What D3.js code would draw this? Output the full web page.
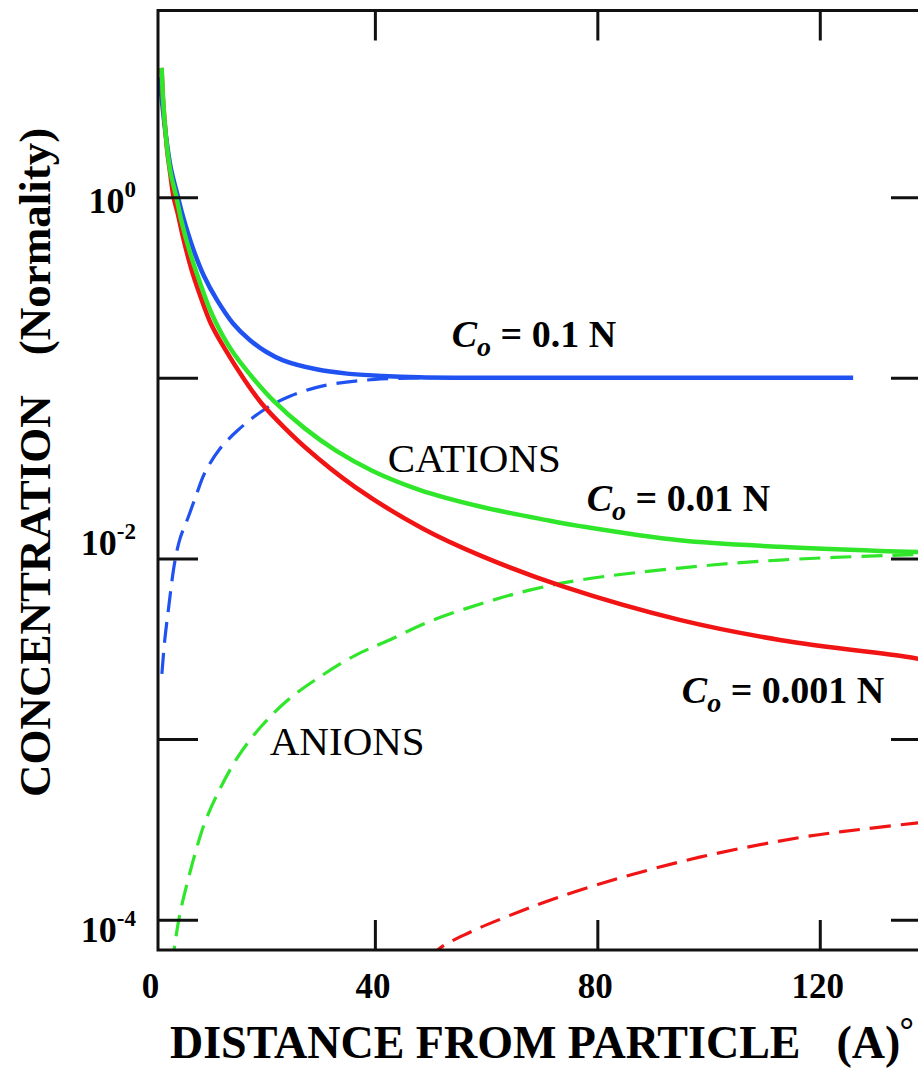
<!DOCTYPE html>
<html>
<head>
<meta charset="utf-8">
<script src="https://cdn.jsdelivr.net/npm/d3@7"></script>
<style>
  body { margin: 0; background: #fff; }
  svg { display: block; font-family: "Liberation Serif", "Times New Roman", serif; }
</style>
</head>
<body>
<div id="chart"></div>
<script>
const width = 918,
      height = 1068;

// [distance (A), concentration (N)]
// Co = 0.1 N
const cation01 = [[1.3, 4.6], [1.8, 3.2], [2.5, 2.1], [3.3, 1.45], [4.6, 1.0], [5.5, 0.78], [7.3, 0.52], [9.2, 0.37],
    [11.6, 0.27], [14.5, 0.2], [17.5, 0.162], [20.5, 0.139], [23.5, 0.125], [29.5, 0.1115], [35, 0.1055],
    [41.4, 0.1025], [48, 0.1008], [55, 0.1002], [65, 0.1], [126, 0.1]];
const anion01 = [[1.7, 0.0023], [2.2, 0.0035], [2.8, 0.005], [4.0, 0.0095], [5.0, 0.013], [6.4, 0.0168], [8.0, 0.023],
    [9.4, 0.0297], [12.0, 0.040], [15.4, 0.0514], [20.2, 0.067], [24.7, 0.079], [29.2, 0.088], [33, 0.093],
    [40, 0.098], [50, 0.1]];
// Co = 0.01 N
const cation001 = [[1.65, 5.2], [1.9, 3.5], [2.3, 2.4], [2.7, 1.8], [3.3, 1.35], [4.3, 1.0], [5.2, 0.74], [6.7, 0.5],
    [8.5, 0.34], [10.3, 0.24], [12.5, 0.174], [14.5, 0.138], [18.4, 0.097], [21.7, 0.075], [27.4, 0.0525],
    [33, 0.0395], [39.5, 0.0306], [48, 0.024], [58.9, 0.0194], [70.9, 0.0163], [76.9, 0.0151], [94.8, 0.0126],
    [112.8, 0.0116], [130.8, 0.0110], [140, 0.0108]];
const anion001 = [[3.6, 5.5e-5], [4.0, 7.2e-5], [5.0, 1.1e-4], [6.4, 1.66e-4], [7.8, 2.4e-4], [9.4, 3.44e-4],
    [12, 5.2e-4], [15.4, 8.0e-4], [19.5, 1.17e-3], [24.4, 1.65e-3], [30, 2.2e-3], [36.4, 2.9e-3], [42.3, 3.5e-3],
    [50, 4.5e-3], [59.8, 5.7e-3], [68, 6.7e-3], [76.9, 7.6e-3], [94.8, 8.85e-3], [112.8, 9.8e-3],
    [136.7, 1.05e-2], [140, 1.055e-2]];
// Co = 0.001 N
const cation0001 = [[1.65, 5.2], [1.9, 3.5], [2.3, 2.4], [2.7, 1.75], [3.2, 1.35], [3.8, 1.0], [4.6, 0.8], [5.5, 0.6],
    [7.0, 0.40], [8.5, 0.29], [10.5, 0.2], [13.0, 0.145], [16.6, 0.097], [19.5, 0.073], [22, 0.06], [27.4, 0.0414],
    [36.4, 0.0249], [48.5, 0.0147], [58.9, 0.0104], [73.8, 0.0070], [94.8, 0.00457], [112.8, 0.00354],
    [136.7, 0.00282], [140, 0.0027]];
const anion0001 = [[50, 5.9e-5], [51.3, 6.8e-5], [57, 8.5e-5], [63.7, 1.04e-4], [72, 1.3e-4], [82.8, 1.66e-4],
    [98.4, 2.22e-4], [116.4, 2.85e-4], [128, 3.18e-4], [140, 3.5e-4]];

// ticks
const xTicks = [40, 80, 120];
const xTickLabels = [0, 40, 80, 120];
const yTicks = [1e-4, 1e-3, 1e-2, 1e-1, 1];
const yTickLabels = [-4, -2, 0];

const blue = "#1f52f0",
      green = "#30e62a",
      red = "#f01414";

// plot extent (data units)
const xMin = 1, xMax = 140,
      yMin = 6.8e-5, yMax = 10.8;

const x = d3.scaleLinear().domain([xMin, xMax]).range([158, 931]);
const y = d3.scaleLog().domain([yMin, yMax]).range([950, 10.5]);

const svg = d3.select("#chart").append("svg")
    .attr("width", width)
    .attr("height", height);

svg.append("clipPath").attr("id", "plot")
  .append("rect")
    .attr("x", x(xMin)).attr("y", y(yMax))
    .attr("width", x(xMax) - x(xMin)).attr("height", y(yMin) - y(yMax));

const line = d3.line()
    .x(d => x(d[0]))
    .y(d => y(d[1]))
    .curve(d3.curveCatmullRom.alpha(0.5));

const curves = [
    {data: anion01, color: blue, dashed: true},
    {data: anion001, color: green, dashed: true},
    {data: anion0001, color: red, dashed: true},
    {data: cation01, color: blue, dashed: false},
    {data: cation0001, color: red, dashed: false},
    {data: cation001, color: green, dashed: false}
];

svg.append("g").attr("clip-path", "url(#plot)")
  .selectAll("path")
  .data(curves)
  .enter()
  .append("path")
    .attr("d", d => line(d.data))
    .attr("fill", "none")
    .attr("stroke", d => d.color)
    .attr("stroke-width", d => d.dashed ? 3.2 : 4.5)
    .attr("stroke-dasharray", d => d.dashed ? "21,10" : null);

// frame + inward ticks
function styleAxis(g) {
    g.select(".domain").remove();
    g.selectAll(".tick line").attr("stroke", "#111").attr("stroke-width", 3);
    g.selectAll(".tick text").remove();
}
svg.append("g").attr("transform", `translate(0,${y(yMin)})`)
    .call(d3.axisBottom(x).tickValues(xTicks).tickSize(-30)).call(styleAxis);
svg.append("g").attr("transform", `translate(0,${y(yMax)})`)
    .call(d3.axisTop(x).tickValues(xTicks).tickSize(-30)).call(styleAxis);
svg.append("g").attr("transform", `translate(${x(xMin)},0)`)
    .call(d3.axisLeft(y).tickValues(yTicks).tickSize(-40)).call(styleAxis);
svg.append("g").attr("transform", `translate(${x(xMax)},0)`)
    .call(d3.axisRight(y).tickValues(yTicks).tickSize(-40)).call(styleAxis);

svg.append("rect")
    .attr("x", x(xMin)).attr("y", y(yMax))
    .attr("width", x(xMax) - x(xMin)).attr("height", y(yMin) - y(yMax))
    .attr("fill", "none").attr("stroke", "#111").attr("stroke-width", 3);

// x tick labels
svg.append("g").selectAll("text")
  .data(xTickLabels)
  .enter()
  .append("text")
    .attr("x", d => x(d) - 2)
    .attr("y", 998)
    .attr("text-anchor", "middle")
    .style("font-size", "35px")
    .attr("font-weight", "bold")
    .text(d => d);

// y tick labels (10^n), baseline nudges follow the original
const yLabelShift = {"-4": 22, "-2": -3, "0": 16};
const yl = svg.append("g").selectAll("text")
  .data(yTickLabels)
  .enter()
  .append("text")
    .attr("x", 136)
    .attr("y", d => y(Math.pow(10, d)) + yLabelShift[d])
    .attr("text-anchor", "end")
    .style("font-size", "36px")
    .attr("font-weight", "bold");
yl.append("tspan").text("10");
yl.append("tspan").style("font-size", "23px").attr("dy", -16).text(d => d === 0 ? "0" : "-" + Math.abs(d));

// axis titles
const yTitle = svg.append("text")
    .attr("transform", "translate(50,797) rotate(-90)")
    .style("font-size", "45px")
    .attr("font-weight", "bold");
yTitle.append("tspan").text("CONCENTRATION");
yTitle.append("tspan").attr("dx", 40).text("(Normality)");

const xTitle = svg.append("text")
    .attr("x", 170).attr("y", 1058)
    .style("font-size", "46px")
    .attr("font-weight", "bold");
xTitle.append("tspan").text("DISTANCE FROM PARTICLE");
xTitle.append("tspan").attr("dx", 36).text("(A)");
xTitle.append("tspan").attr("dx", -1).attr("dy", -16).style("font-size", "36px").text("°");

// annotations (data coordinates)
const coLabels = [
    {x: 53.8, y: 0.148, value: "0.1"},
    {x: 78.1, y: 0.0183, value: "0.01"},
    {x: 95.2, y: 0.00159, value: "0.001"}
];
const co = svg.append("g").selectAll("text")
  .data(coLabels)
  .enter()
  .append("text")
    .attr("x", d => x(d.x))
    .attr("y", d => y(d.y))
    .style("font-size", "38px")
    .attr("font-weight", "bold");
co.append("tspan").attr("font-style", "italic").text("C");
co.append("tspan").attr("font-style", "italic").style("font-size", "28px").attr("dy", 9).text("o");
co.append("tspan").attr("dy", -9).text(d => " = " + d.value + " N");

const ionLabels = [
    {x: 42.3, y: 0.0301, text: "CATIONS"},
    {x: 21.1, y: 8.18e-4, text: "ANIONS"}
];
svg.append("g").selectAll("text")
  .data(ionLabels)
  .enter()
  .append("text")
    .attr("x", d => x(d.x))
    .attr("y", d => y(d.y))
    .style("font-size", "41px")
    .text(d => d.text);
</script>
</body>
</html>
